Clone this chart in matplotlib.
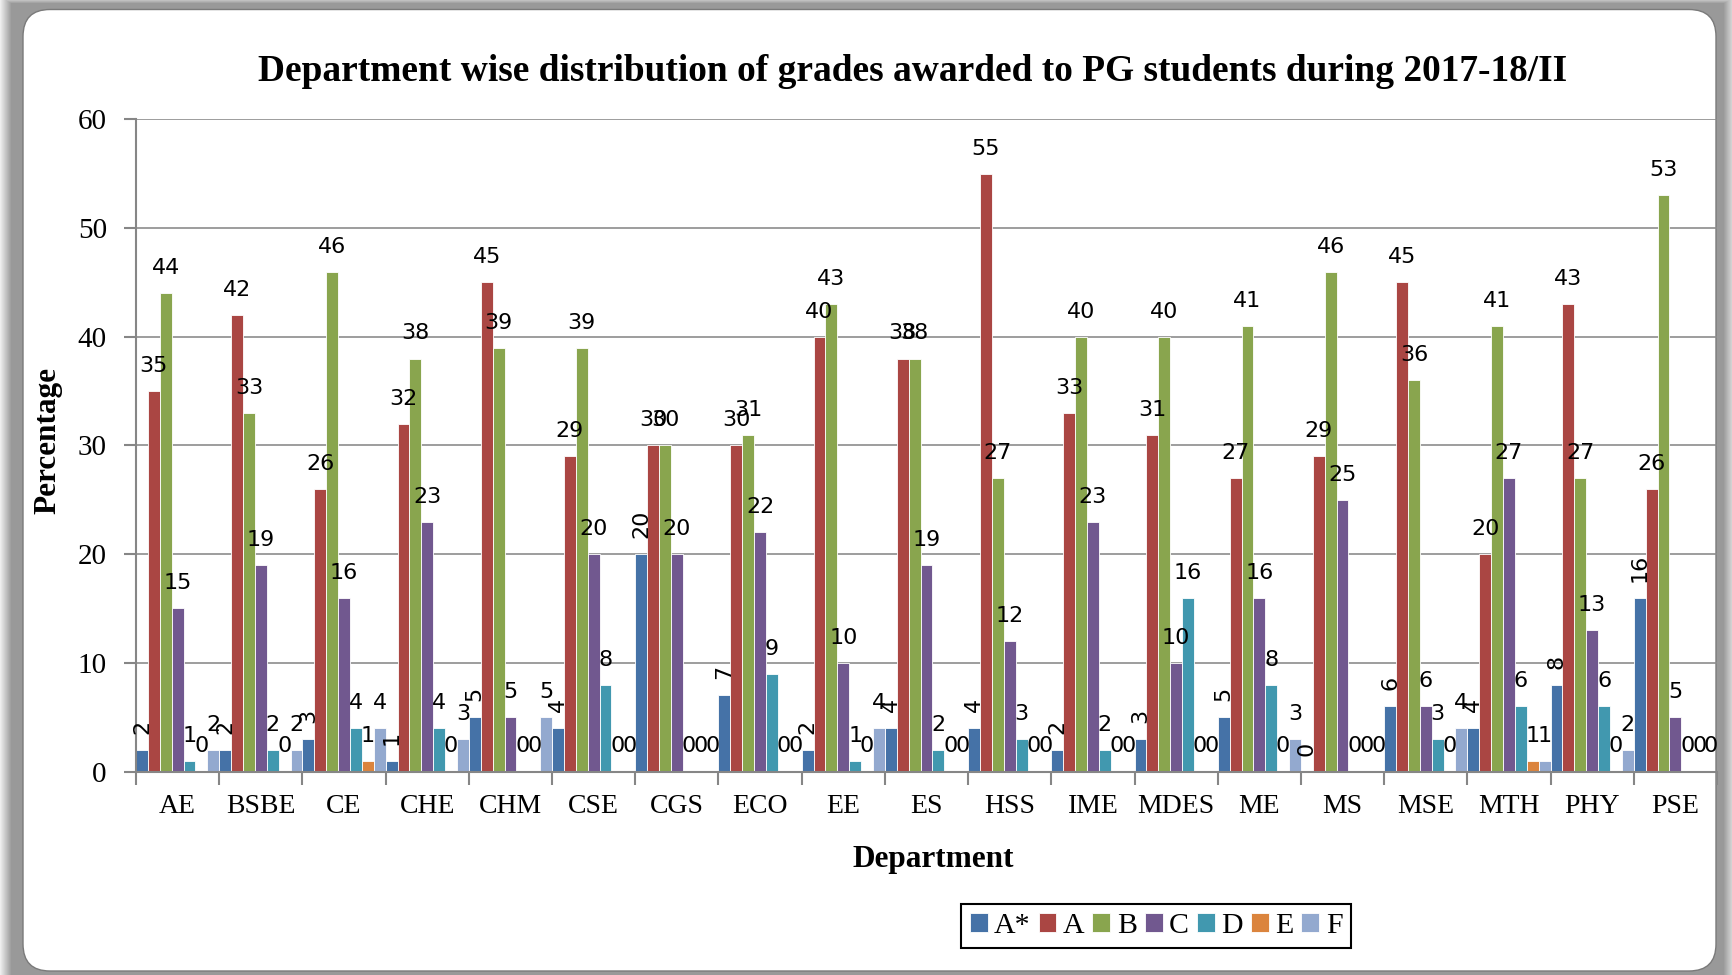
import numpy as np
import matplotlib
matplotlib.use("Agg")
import matplotlib.pyplot as plt
from matplotlib.patches import FancyBboxPatch

# ---------------- data ----------------
departments = ["AE", "BSBE", "CE", "CHE", "CHM", "CSE", "CGS", "ECO", "EE", "ES",
               "HSS", "IME", "MDES", "ME", "MS", "MSE", "MTH", "PHY", "PSE"]
grades = ["A*", "A", "B", "C", "D", "E", "F"]
a_star = [2, 2, 3, 1, 5, 4, 20, 7, 2, 4, 4, 2, 3, 5, 0, 6, 4, 8, 16]
a_grade = [35, 42, 26, 32, 45, 29, 30, 30, 40, 38, 55, 33, 31, 27, 29, 45, 20, 43, 26]
b_grade = [44, 33, 46, 38, 39, 39, 30, 31, 43, 38, 27, 40, 40, 41, 46, 36, 41, 27, 53]
c_grade = [15, 19, 16, 23, 5, 20, 20, 22, 10, 19, 12, 23, 10, 16, 25, 6, 27, 13, 5]
d_grade = [1, 2, 4, 4, 0, 8, 0, 9, 1, 2, 3, 2, 16, 8, 0, 3, 6, 6, 0]
e_grade = [0, 0, 1, 0, 0, 0, 0, 0, 0, 0, 0, 0, 0, 0, 0, 0, 1, 0, 0]
f_grade = [2, 2, 4, 3, 5, 0, 0, 0, 4, 0, 0, 0, 0, 3, 0, 4, 1, 2, 0]
series = [a_star, a_grade, b_grade, c_grade, d_grade, e_grade, f_grade]
colors = ["#4572A7", "#AA4643", "#89A54E", "#71588F", "#4198AF", "#DB843D", "#93A9CF"]

title = "Department wise distribution of grades awarded to PG students during 2017-18/II"

W, H = 1733, 975
fig = plt.figure(figsize=(W / 100, H / 100), dpi=100)

# ---------------- background frame ----------------
bg = fig.add_axes([0, 0, 1, 1], zorder=0)
bg.set_xlim(0, W)
bg.set_ylim(H, 0)
bg.axis("off")
base = 0.6
hprof = np.full(W, base)
hprof[:12] = np.linspace(0.93, base, 12)
hprof[W - 10:] = np.linspace(base, 0.85, 10)
vprof = np.full(H, base)
vprof[:4] = np.linspace(0.75, base, 4)
img = np.maximum(hprof[None, :], vprof[:, None])
bg.imshow(img, cmap="gray", vmin=0, vmax=1, extent=(0, W, H, 0),
          aspect="auto", interpolation="bilinear")
frame = FancyBboxPatch((23, 9.5), 1716 - 23, 971 - 9.5,
                       boxstyle="round,pad=0,rounding_size=27",
                       fc="white", ec="#7a7a7a", lw=1.0)
bg.add_patch(frame)

# ---------------- main axes ----------------
left, right, top, bottom = 136, 1717, 119.4, 771.5
ax = fig.add_axes([left / W, 1 - bottom / H, (right - left) / W, (bottom - top) / H], zorder=1)
ax.set_facecolor("none")

n_cat = len(departments)
n_ser = len(series)
w = 1.0 / n_ser
base_x = np.arange(n_cat)

for j, (vals, col, name) in enumerate(zip(series, colors, grades)):
    x = base_x + (j + 0.5) * w
    ax.bar(x, vals, width=w, color=col, edgecolor="white", linewidth=0.6,
           label=name, zorder=2)
    for xi, v in zip(x, vals):
        if j == 0:
            ax.annotate(str(v), (xi, v), xytext=(0, 11.5), textcoords="offset points",
                        rotation=90, ha="center", va="bottom", fontsize=16,
                        family="DejaVu Sans", annotation_clip=False, zorder=3)
        else:
            ax.annotate(str(v), (xi, v), xytext=(0, 13.7), textcoords="offset points",
                        ha="center", va="baseline", fontsize=16,
                        family="DejaVu Sans", annotation_clip=False, zorder=3)

ax.set_xlim(0, n_cat)
ax.set_ylim(0, 60)
ax.set_yticks(np.arange(0, 61, 10))
ax.yaxis.grid(True, color="#8c8c8c", linewidth=1.2)
ax.set_axisbelow(True)

ax.set_xticks(np.arange(n_cat + 1))
ax.set_xticklabels([])
ax.set_xticks(base_x + 0.5, minor=True)
ax.set_xticklabels(departments, minor=True, fontsize=20, family="Liberation Serif")
ax.tick_params(axis="x", which="major", length=9, width=1.5, color="#868686", direction="out")
ax.tick_params(axis="x", which="minor", length=0, pad=16)
ax.tick_params(axis="y", length=9, width=1.5, color="#868686", direction="out", pad=12)
for lbl in ax.get_yticklabels():
    lbl.set_fontsize(21)
    lbl.set_family("Liberation Serif")

for s in ["top", "right"]:
    ax.spines[s].set_visible(False)
for s in ["left", "bottom"]:
    ax.spines[s].set_color("#868686")
    ax.spines[s].set_linewidth(1.5)

# ---------------- texts ----------------
fig.text(913 / W, 1 - 81 / H, title, ha="center", va="baseline",
         fontsize=26.9, fontweight="bold", family="Liberation Serif")
fig.text(48 / W, 1 - 440 / H, "Percentage", rotation=90, ha="center", va="center",
         fontsize=22.5, fontweight="bold", family="Liberation Serif")
fig.text(933 / W, 1 - 859 / H, "Department", ha="center", va="center",
         fontsize=22.5, fontweight="bold", family="Liberation Serif")

leg = fig.legend(loc="center", bbox_to_anchor=(1156 / W, 1 - 926 / H), ncol=7,
                 prop={"family": "Liberation Serif", "size": 21.5},
                 handlelength=0.6, handleheight=0.6, handletextpad=0.22,
                 columnspacing=0.26, borderpad=0.3, borderaxespad=0.0, fancybox=False,
                 frameon=True, framealpha=1, edgecolor="black")
leg.get_frame().set_linewidth(1.5)

fig.savefig("out.png", dpi=100)
